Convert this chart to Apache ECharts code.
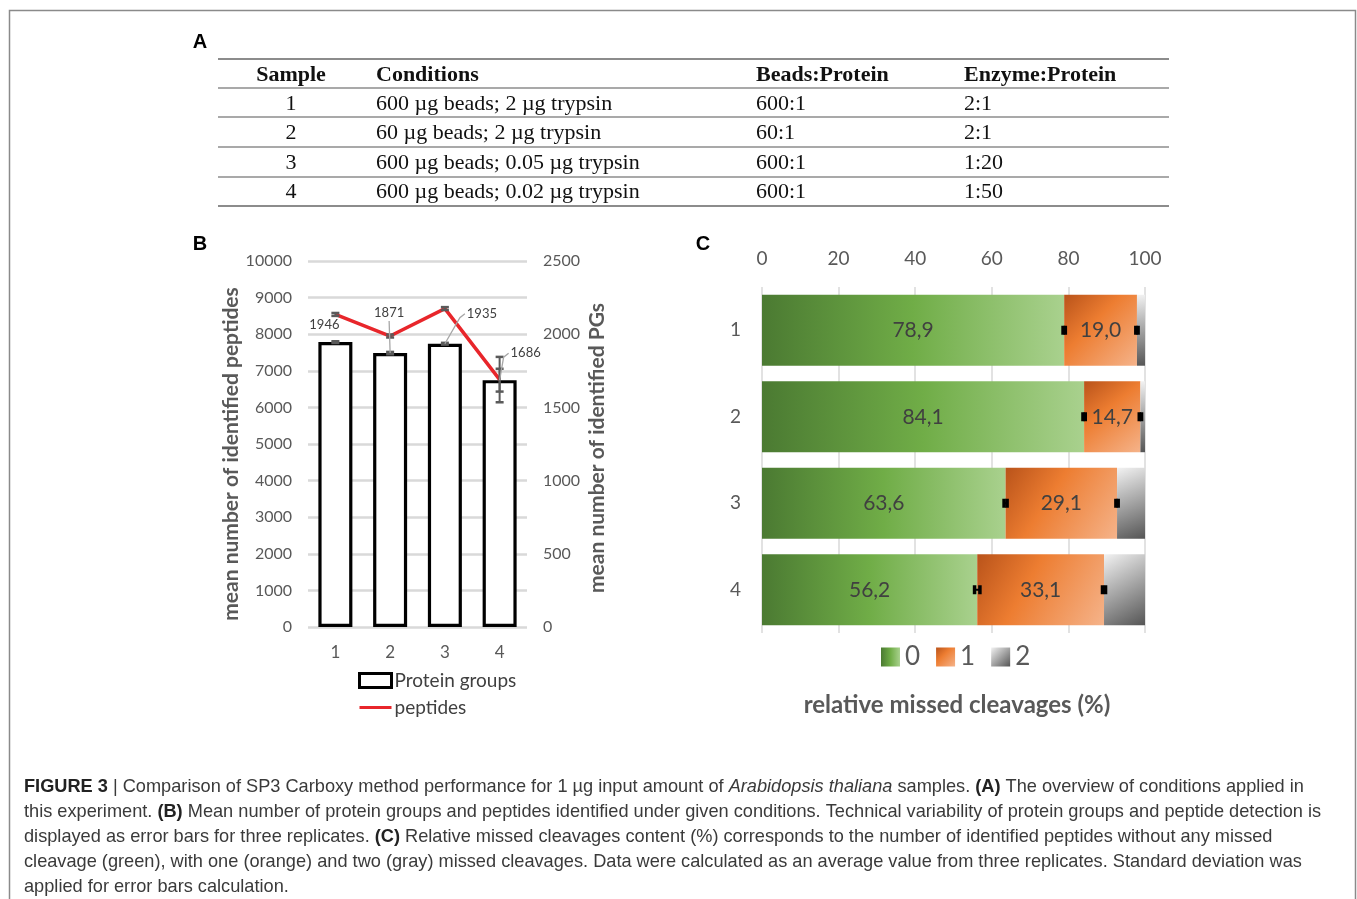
<!DOCTYPE html>
<html><head><meta charset="utf-8">
<script src="https://cdn.jsdelivr.net/npm/echarts@6/dist/echarts.min.js"></script>
<style>html,body{margin:0;padding:0;background:#fff}#c{width:1357px;height:899px}</style>
</head><body><div id="c"></div>
<script>
// ---------- DATA ----------
const tableHeader = ['Sample', 'Conditions', 'Beads:Protein', 'Enzyme:Protein'];
const tableSamples = ['1', '2', '3', '4'];
const tableConditions = ['600 µg beads; 2 µg trypsin', '60 µg beads; 2 µg trypsin', '600 µg beads; 0.05 µg trypsin', '600 µg beads; 0.02 µg trypsin'];
const tableBeads = ['600:1', '60:1', '600:1', '600:1'];
const tableEnzyme = ['2:1', '2:1', '1:20', '1:50'];

const samplesB = ['1', '2', '3', '4'];
const proteinGroups = [1946, 1871, 1935, 1686];
const proteinGroupsErr = [6, 8, 6, 78];
const peptides = [8540, 7950, 8700, 6760];
const peptidesErr = [40, 40, 40, 620];

const samplesC = ['1', '2', '3', '4'];
const missed0 = [78.9, 84.1, 63.6, 56.2];
const missed1 = [19.0, 14.7, 29.1, 33.1];
const missed2 = [2.1, 1.2, 7.3, 10.7];
const missed0Err = [0.3, 0.3, 0.4, 0.7];
const missed1Err = [0.3, 0.3, 0.3, 0.4];

const captionLines = [
  '{b|FIGURE 3} | Comparison of SP3 Carboxy method performance for 1 µg input amount of {i|Arabidopsis thaliana} samples. {b|(A)} The overview of conditions applied in',
  'this experiment. {b|(B)} Mean number of protein groups and peptides identified under given conditions. Technical variability of protein groups and peptide detection is',
  'displayed as error bars for three replicates. {b|(C)} Relative missed cleavages content (%) corresponds to the number of identified peptides without any missed',
  'cleavage (green), with one (orange) and two (gray) missed cleavages. Data were calculated as an average value from three replicates. Standard deviation was',
  'applied for error bars calculation.'
];

// ---------- RENDER ----------
const chart = echarts.init(document.getElementById('c'), null, {renderer: 'canvas'});
const SANS = 'Lato';
const G = [];
const CAP = 18.2;

// outer frame
G.push({type: 'rect', shape: {x: 9.5, y: 10.5, width: 1346, height: 920}, style: {fill: 'none', stroke: '#8a8a8a', lineWidth: 1.5}, silent: true});
// panel letters
[['A', 200, 42], ['B', 200, 244], ['C', 703, 244]].forEach(function (p) {
  G.push({type: 'text', x: p[1], y: p[2], style: {text: p[0], font: 'bold 20px "Liberation Sans"', fill: '#000', align: 'center', verticalAlign: 'middle', textAlign: 'center', textVerticalAlign: 'middle'}});
});
// table lines
const tX1 = 218, tX2 = 1169;
[[59, 2.2], [88, 1.5], [117, 1.5], [147, 1.5], [177, 1.5], [206, 2]].forEach(function (l) {
  G.push({type: 'line', shape: {x1: tX1, y1: l[0], x2: tX2, y2: l[0]}, style: {stroke: '#8c8c8c', lineWidth: l[1]}});
});
const colX = [291, 376, 756, 964];
const colAlign = ['center', 'left', 'left', 'left'];
const rowY = [75, 104, 133, 163, 192];
function tText(txt, col, row, bold) {
  G.push({type: 'text', x: colX[col], y: rowY[row], style: {text: txt, font: (bold ? 'bold ' : '') + '22px "Liberation Serif"', fill: '#111', align: colAlign[col], textAlign: colAlign[col], verticalAlign: 'middle', textVerticalAlign: 'middle'}});
}
tableHeader.forEach(function (h, c) { tText(h, c, 0, true); });
tableSamples.forEach(function (s, r) {
  tText(s, 0, r + 1); tText(tableConditions[r], 1, r + 1); tText(tableBeads[r], 2, r + 1); tText(tableEnzyme[r], 3, r + 1);
});
// caption
captionLines.forEach(function (ln, k) {
  G.push({type: 'text', x: 24, y: 787 + k * 25, style: {
    text: ln, font: CAP + 'px "Liberation Sans"', fill: '#3a3a3a', verticalAlign: 'middle', textVerticalAlign: 'middle',
    rich: {b: {fontWeight: 'bold', fontSize: CAP, fontFamily: 'Liberation Sans', fill: '#222', color: '#222'},
           i: {fontStyle: 'italic', fontSize: CAP, fontFamily: 'Liberation Sans', fill: '#3a3a3a', color: '#3a3a3a'}}
  }});
});
// C title
G.push({type: 'text', x: 957, y: 705, style: {text: 'relative missed cleavages (%)', font: 'bold 24px ' + SANS, fill: '#595959', align: 'center', textAlign: 'center', verticalAlign: 'middle', textVerticalAlign: 'middle'}});

// gradients
const LG = echarts.graphic.LinearGradient;
const greenGrad = new LG(0, 0, 1, 0, [{offset: 0, color: '#4b7a32'}, {offset: 0.5, color: '#70ad47'}, {offset: 1, color: '#a9d18e'}]);
const orangeGrad = new LG(0, 0, 1, 1, [{offset: 0, color: '#b9531a'}, {offset: 0.4, color: '#ed7d31'}, {offset: 1, color: '#f5b38a'}]);
const grayGrad = new LG(0, 0, 1, 1, [{offset: 0, color: '#f2f2f2'}, {offset: 1, color: '#555555'}]);

function vErrItem(color, capW) {
  return function (params, api) {
    const i = api.value(0), v = api.value(1), e = api.value(2);
    const t = api.coord([i, v + e]), b = api.coord([i, v - e]);
    const x = t[0];
    return {type: 'group', children: [
      {type: 'line', shape: {x1: x, y1: t[1], x2: x, y2: b[1]}, style: {stroke: color, lineWidth: 2}},
      {type: 'line', shape: {x1: x - capW / 2, y1: t[1], x2: x + capW / 2, y2: t[1]}, style: {stroke: color, lineWidth: 2.5}},
      {type: 'line', shape: {x1: x - capW / 2, y1: b[1], x2: x + capW / 2, y2: b[1]}, style: {stroke: color, lineWidth: 2.5}}
    ]};
  };
}
function hErrItem(color) {
  return function (params, api) {
    const v = api.value(0), i = api.value(1), e = api.value(2);
    const l = api.coord([v - e, i]), r = api.coord([v + e, i]);
    const y = l[1];
    return {type: 'group', children: [
      {type: 'line', shape: {x1: l[0], y1: y, x2: r[0], y2: y}, style: {stroke: color, lineWidth: 2}},
      {type: 'line', shape: {x1: l[0], y1: y - 4.5, x2: l[0], y2: y + 4.5}, style: {stroke: color, lineWidth: 3.5}},
      {type: 'line', shape: {x1: r[0], y1: y - 4.5, x2: r[0], y2: y + 4.5}, style: {stroke: color, lineWidth: 3.5}}
    ]};
  };
}
// label placement for PG labels (pixel offsets from bar top), leader line flags
const pgLabelOffset = [[-11, -17], [-1, -40], [37, -30], [26, -27]];
const pgLabelLine = [false, true, true, true];
function pgLabelItem(params, api) {
  const i = api.value(0), v = api.value(1);
  const p = api.coord([i, v]);
  const off = pgLabelOffset[i];
  const cx = p[0] + off[0], cy = p[1] + off[1];
  const ch = [{type: 'text', x: cx, y: cy, style: {text: String(v), font: '13px ' + SANS, fill: '#404040', align: 'center', textAlign: 'center', verticalAlign: 'middle', textVerticalAlign: 'middle'}}];
  if (pgLabelLine[i]) {
    let pts;
    if (Math.abs(off[0]) > 15) pts = [[p[0], p[1]], [cx - 22, cy + 4], [cx - 17, cy]];
    else pts = [[p[0], p[1]], [cx, cy + 8]];
    ch.push({type: 'polyline', shape: {points: pts}, style: {stroke: '#a6a6a6', lineWidth: 1.3, fill: 'none'}});
  }
  return {type: 'group', children: ch};
}
const plainNum = function (v) { return String(v); };
const lineIcon = 'path://M0,0 L0.1,0 L0.1,0.1 Z M0,5.5 L32,5.5 L32,8.5 L0,8.5 Z M31.9,13.9 L32,13.9 L32,14 Z';

const option = {
  animation: false,
  textStyle: {fontFamily: SANS},
  graphic: G,
  grid: [
    {left: 308, top: 261, width: 219, height: 366},
    {left: 762, top: 287, width: 383, height: 346}
  ],
  xAxis: [
    {gridIndex: 0, type: 'category', data: samplesB, axisLine: {show: false}, axisTick: {show: false},
     axisLabel: {fontSize: 17, color: '#595959', margin: 17}},
    {gridIndex: 1, type: 'value', position: 'top', min: 0, max: 100, interval: 20, axisLine: {show: false}, axisTick: {show: false},
     axisLabel: {fontSize: 19, color: '#595959', margin: 19},
     splitLine: {show: true, lineStyle: {color: '#d9d9d9', width: 1.5}}}
  ],
  yAxis: [
    {gridIndex: 0, type: 'value', min: 0, max: 10000, interval: 1000, axisLine: {show: false}, axisTick: {show: false},
     axisLabel: {fontSize: 16, color: '#595959', margin: 16, formatter: plainNum},
     splitLine: {lineStyle: {color: '#d9d9d9', width: 2.5}},
     name: 'mean number of identified peptides', nameLocation: 'middle', nameRotate: 90, nameGap: 49,
     nameTextStyle: {fontSize: 21, fontWeight: 'bold', color: '#595959', padding: [0, 20, 0, 0]}},
    {gridIndex: 0, type: 'value', min: 0, max: 2500, interval: 500, position: 'right', axisLine: {show: false}, axisTick: {show: false},
     axisLabel: {fontSize: 16, color: '#595959', margin: 16, formatter: plainNum}, splitLine: {show: false},
     name: 'mean number of identified PGs', nameLocation: 'middle', nameRotate: 90, nameGap: 60,
     nameTextStyle: {fontSize: 21, fontWeight: 'bold', color: '#595959', padding: [0, 8, 0, 0]}},
    {gridIndex: 1, type: 'category', data: samplesC, inverse: true, axisLine: {show: false}, axisTick: {show: false},
     axisLabel: {fontSize: 19, color: '#595959', margin: 21}}
  ],
  legend: [
    {left: 353, top: 666, orient: 'vertical', itemGap: 8, itemWidth: 32, itemHeight: 14,
     textStyle: {fontSize: 19, color: '#404040', padding: [0, 0, 0, -2]},
     data: [{name: 'Protein groups', icon: 'rect', itemStyle: {color: '#fff', borderColor: '#000', borderWidth: 3}},
            {name: 'peptides', icon: lineIcon, itemStyle: {color: '#e8262b', borderWidth: 0}}]},
    {left: 876, top: 639, orient: 'horizontal', itemGap: 16, itemWidth: 19, itemHeight: 19,
     textStyle: {fontSize: 26, color: '#595959'},
     data: [{name: '0', icon: 'rect'}, {name: '1', icon: 'rect'}, {name: '2', icon: 'rect'}]}
  ],
  series: [
    {name: 'Protein groups', type: 'bar', xAxisIndex: 0, yAxisIndex: 1, data: proteinGroups, barWidth: 34,
     itemStyle: {color: '#fff', borderColor: '#000', borderWidth: 3.2}, z: 2},
    {name: 'peptides', type: 'line', xAxisIndex: 0, yAxisIndex: 0, data: peptides, symbol: 'none',
     lineStyle: {color: '#e8262b', width: 3.5}, itemStyle: {color: '#e8262b'}, z: 4},
    {name: 'pgErr', type: 'custom', xAxisIndex: 0, yAxisIndex: 1, renderItem: vErrItem('#5a5a5a', 8), encode: {x: 0, y: 1},
     data: proteinGroups.map(function (v, i) { return [i, v, proteinGroupsErr[i]]; }), z: 5},
    {name: 'pepErr', type: 'custom', xAxisIndex: 0, yAxisIndex: 0, renderItem: vErrItem('#5a5a5a', 8), encode: {x: 0, y: 1},
     data: peptides.map(function (v, i) { return [i, v, peptidesErr[i]]; }), z: 5},
    {name: 'pgLabels', type: 'custom', xAxisIndex: 0, yAxisIndex: 1, renderItem: pgLabelItem, encode: {x: 0, y: 1},
     data: proteinGroups.map(function (v, i) { return [i, v]; }), z: 6},

    {name: '0', type: 'bar', xAxisIndex: 1, yAxisIndex: 2, stack: 'mc', data: missed0, barCategoryGap: '18%',
     itemStyle: {color: greenGrad},
     label: {show: true, position: 'inside', fontSize: 21, color: '#404040', formatter: function (p) { return p.value.toFixed(1).replace('.', ','); }}},
    {name: '1', type: 'bar', xAxisIndex: 1, yAxisIndex: 2, stack: 'mc', data: missed1,
     itemStyle: {color: orangeGrad},
     label: {show: true, position: 'inside', fontSize: 21, color: '#404040', formatter: function (p) { return p.value.toFixed(1).replace('.', ','); }}},
    {name: '2', type: 'bar', xAxisIndex: 1, yAxisIndex: 2, stack: 'mc', data: missed2, itemStyle: {color: grayGrad}},
    {name: 'err0', type: 'custom', xAxisIndex: 1, yAxisIndex: 2, renderItem: hErrItem('#000'), encode: {x: 0, y: 1},
     data: missed0.map(function (v, i) { return [v, i, missed0Err[i]]; }), z: 5},
    {name: 'err1', type: 'custom', xAxisIndex: 1, yAxisIndex: 2, renderItem: hErrItem('#000'), encode: {x: 0, y: 1},
     data: missed1.map(function (v, i) { return [missed0[i] + v, i, missed1Err[i]]; }), z: 5}
  ]
};
chart.setOption(option);
</script>
</body></html>
